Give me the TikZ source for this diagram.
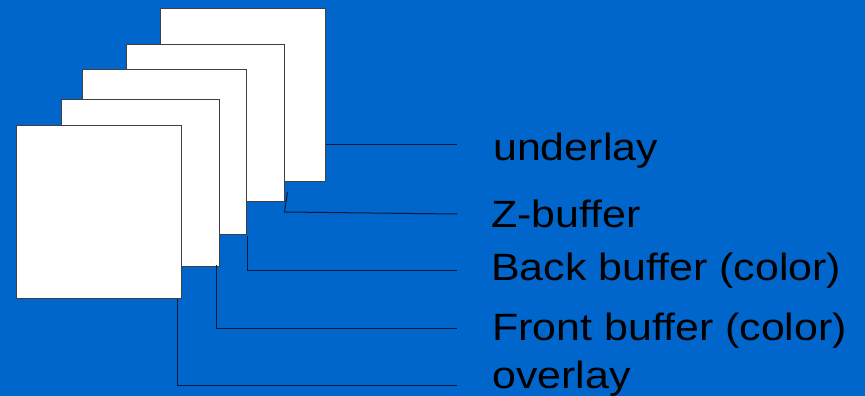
\documentclass[tikz,border=0pt]{standalone}
\usepackage{fontspec}
\setmainfont{Liberation Sans}
\usepackage{xcolor}
\usepackage{tikz}
\usetikzlibrary{positioning, calc}
\definecolor{slideblue}{RGB}{0,102,204}
\definecolor{leadline}{RGB}{10,25,55}
\newcommand{\widetext}[1]{\scalebox{1.13}[1]{#1}}

\begin{document}
\begin{tikzpicture}[
    x=1pt, y=-1pt,
    sheet/.style={rectangle, draw=black!75, fill=white, line width=0.9pt, inner sep=0pt, anchor=north west},
    lead/.style={draw=leadline, line width=1pt},
    lbl/.style={font=\fontsize{38}{44}\selectfont, text=black, inner sep=0pt, anchor=base west}
]
\fill[slideblue] (0,0) rectangle (865,396);
\useasboundingbox (0,0) rectangle (865,396);

% stacked buffers, back to front
\node[sheet, minimum width=165pt, minimum height=173pt] (under) at (160,8) {};
\node[sheet, minimum width=158pt, minimum height=157pt] (zbuf) at (126,44) {};
\node[sheet, minimum width=164pt, minimum height=165pt] (back) at (82,69) {};
\node[sheet, minimum width=158pt, minimum height=167pt] (front) at (61,99) {};
\node[sheet, minimum width=165pt, minimum height=173pt] (over) at (16,125) {};

% labels
\node[lbl] (tUnder) at (493,160) {\widetext{underlay}};
\node[lbl] (tZbuf) at (491,227) {\widetext{Z-buffer}};
\node[lbl] (tBack) at (491,280) {\widetext{Back buffer (color)}};
\node[lbl] (tFront) at (492,340) {\widetext{Front buffer (color)}};
\node[lbl] (tOver) at (492,388) {\widetext{overlay}};

% free ends of the leader lines
\coordinate (eUnder) at (457,144);
\coordinate (sZbuf) at (287.5,192);
\coordinate (kZbuf) at (284.5,212);
\coordinate (eZbuf) at (457,214);
\coordinate (eBack) at (457,270);
\coordinate (eFront) at (457,328);
\coordinate (eOver) at (457,385);

\draw[lead] (under.east |- eUnder) -- (eUnder);
\draw[lead] (sZbuf) -- (kZbuf) -- (eZbuf);
\draw[lead] ($(back.south east)+(1,1)$) |- (eBack);
\draw[lead] ($(front.south east)+(-3,-2)$) |- (eFront);
\draw[lead] ($(over.south east)+(-4,0)$) |- (eOver);
\end{tikzpicture}
\end{document}
